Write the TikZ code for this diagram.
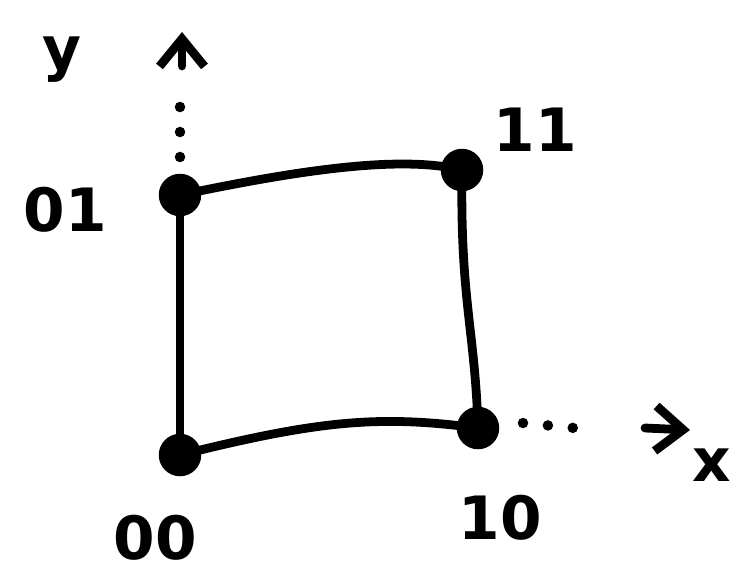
\documentclass[tikz,border=0pt]{standalone}
\usepackage{fontspec}
\setmainfont{DejaVu Sans}
\usetikzlibrary{arrows.meta,positioning,calc}

\begin{document}
\begin{tikzpicture}[x=0.02cm,y=-0.02cm,
  corner/.style={circle,fill=black,inner sep=0,minimum size=0.85cm},
  lbl/.style={font=\fontsize{34}{40}\selectfont\bfseries},
  edge/.style={line width=5pt,line cap=round,line join=round},
  dots/.style={line width=6pt,line cap=round,dash pattern=on 0pt off 0.5cm},
  tip/.style={line width=5pt,line cap=round,-{Straight Barb[length=0.55cm,width=0.9cm,line width=5pt]}}]
\useasboundingbox (0,0) rectangle (737,579);
\node[corner] (n00) at (180,455) {};
\node[corner] (n10) at (478,428) {};
\node[corner] (n11) at (462,170) {};
\node[corner] (n01) at (180,195) {};
\node[lbl] (l00) at (155,538) {00};
\node[lbl] (l10) at (500,518) {10};
\node[lbl] (l11) at (535,130) {11};
\node[lbl] (l01) at (65,210) {01};
\node[lbl] (ly) at (62,60) {y};
\node[lbl] (lx) at (712,465) {x};
\coordinate (ytip) at (182,32);
\coordinate (xtip) at (690,430);
% square
\draw[edge] (n00.center) .. controls (320,420) and (380,415) .. (n10.center);
\draw[edge] (n10.center) .. controls (475,330) and (460,300) .. (n11.center);
\draw[edge] (n01.center) .. controls (300,170) and (400,155) .. (n11.center);
\draw[edge] (n01.center) -- (n00.center);
% axes
\draw[dots] ($ (n01) + (0,-38) $) -- ($ (ytip) + (-2,75) $);
\draw[tip] ($ (ytip) + (0,34) $) -- (ytip);
\draw[dots] ($ (n10) + (45,-5) $) -- ($ (xtip) + (-95,0) $);
\draw[tip] ($ (xtip) + (-45,-2) $) -- (xtip);
\end{tikzpicture}
\end{document}
